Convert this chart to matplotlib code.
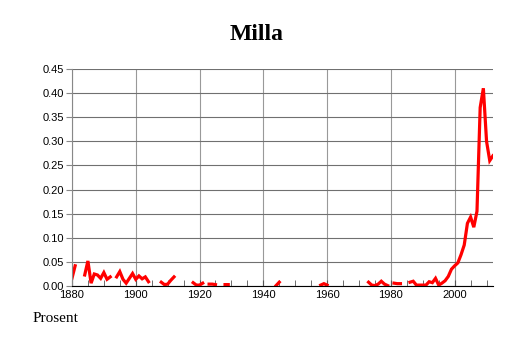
import matplotlib.pyplot as plt
import numpy as np

nan = np.nan

# share of newborns named Milla, per year 1880-2012 (nan = no data)
years = list(range(1880, 2013))
values = [
    0.016, 0.042, nan, nan, 0.023, 0.052, 0.006, 0.025, 0.023, 0.016,   # 1880s
    0.028, 0.014, 0.019, nan, 0.019, 0.030, 0.014, 0.006, 0.016, 0.026,  # 1890s
    0.014, 0.021, 0.015, 0.019, 0.009, nan, nan, nan, 0.008, 0.003,      # 1900s
    0.004, 0.012, 0.019, nan, nan, nan, nan, nan, 0.007, 0.002,          # 1910s
    0.002, 0.006, nan, 0.004, 0.004, 0.003, nan, nan, 0.003, 0.003,      # 1920s
    nan, nan, nan, nan, nan, nan, nan, nan, nan, nan,                    # 1930s
    nan, nan, nan, nan, 0.001, 0.008, nan, nan, nan, nan,                # 1940s
    nan, nan, nan, nan, nan, nan, nan, nan, 0.002, 0.005,                # 1950s
    0.002, nan, nan, nan, nan, nan, nan, nan, nan, nan,                  # 1960s
    nan, nan, nan, 0.008, 0.002, 0.001, 0.004, 0.010, 0.004, 0.001,      # 1970s
    nan, 0.006, 0.005, 0.005, nan, nan, 0.008, 0.010, 0.002, 0.002,      # 1980s
    0.002, 0.002, 0.009, 0.007, 0.016, 0.002, 0.006, 0.011, 0.020, 0.035,  # 1990s
    0.042, 0.048, 0.065, 0.085, 0.130, 0.143, 0.122, 0.155, 0.370, 0.410,  # 2000s
    0.300, 0.260, 0.270,
]

title = 'Milla'
ylabel = 'Prosent'

fig = plt.figure(figsize=(5.14, 3.43), dpi=100)
ax = fig.add_axes([0.140, 0.166, 0.819, 0.633])

ax.plot(years, values, color='#ff0000', linewidth=2.3, solid_joinstyle='miter')

ax.set_xlim(1880, 2012)
ax.set_ylim(0, 0.45)
ax.set_xticks(range(1880, 2001, 20))
ax.set_xticks(range(1880, 2011, 5), minor=True)
ax.set_yticks(np.arange(0, 0.451, 0.05))
ax.set_yticklabels(['%.2f' % v for v in np.arange(0, 0.451, 0.05)])

ax.grid(True, which='major', axis='y', color='#707070', linewidth=0.8)
ax.grid(True, which='major', axis='x', color='#999999', linewidth=0.8)
ax.set_axisbelow(True)

for s in ['top', 'right']:
    ax.spines[s].set_visible(False)
ax.spines['left'].set_color('#888888')
ax.spines['left'].set_linewidth(0.8)
ax.spines['bottom'].set_color('black')
ax.spines['bottom'].set_linewidth(0.8)

ax.tick_params(axis='x', which='both', direction='in', length=4, color='#555555', pad=3)
ax.tick_params(axis='y', direction='out', length=4.5, color='#888888', pad=1)
for lab in ax.get_xticklabels() + ax.get_yticklabels():
    lab.set_fontfamily('Liberation Sans')
    lab.set_fontsize(8)

fig.text(0.5, 0.883, title, ha='center', va='baseline',
         fontfamily='Liberation Serif', fontweight='bold', fontsize=17)
fig.text(0.064, 0.062, ylabel, ha='left', va='baseline',
         fontfamily='Liberation Serif', fontsize=11)

fig.savefig('out.png', dpi=100)
